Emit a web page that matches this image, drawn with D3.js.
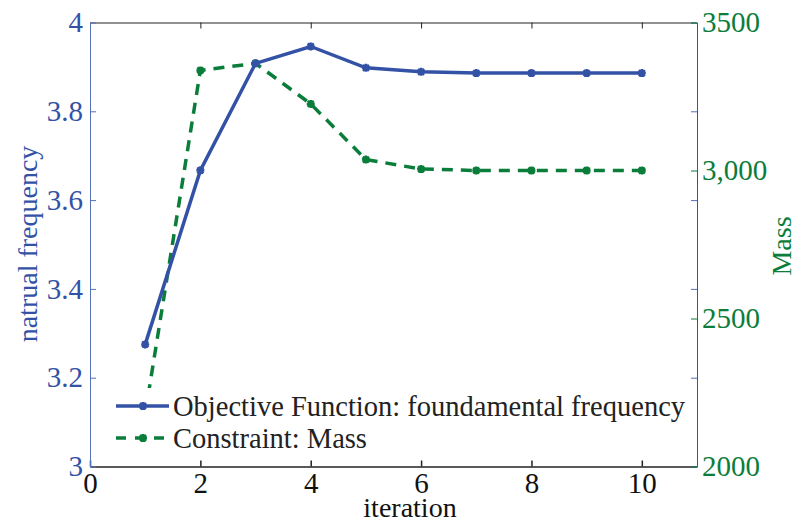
<!DOCTYPE html>
<html>
<head>
<meta charset="utf-8">
<script src="https://cdn.jsdelivr.net/npm/d3@7"></script>
<style>
body { margin: 0; background: #fff; }
text { font-family: "Liberation Serif", "Times New Roman", serif; }
</style>
</head>
<body>
<script>
var w = 796;
var h = 522;

var iterations = [1, 2, 3, 4, 5, 6, 7, 8, 9, 10];
var frequency = [3.275, 3.667, 3.908, 3.946, 3.898, 3.889, 3.886, 3.886, 3.886, 3.886];
var mass = [2178, 3338, 3362, 3225, 3037, 3005, 3000, 3000, 3000, 3000];
var xTicks = [0, 2, 4, 6, 8, 10];
var freqTicks = [3, 3.2, 3.4, 3.6, 3.8, 4];
var massTicks = [2000, 2500, 3000, 3500];
var massTickLabels = ["2000", "2500", "3,000", "3500"];
var legendNames = ["Objective Function: foundamental frequency", "Constraint: Mass"];

var blue = "#3352a6";
var green = "#0b7d3b";

var xScale = d3.scaleLinear().domain([0, 11]).range([90, 697]);
var yFreq = d3.scaleLinear().domain([3, 4]).range([466.5, 22.5]);
var yMass = d3.scaleLinear().domain([2000, 3500]).range([466.5, 22.5]);

var svg = d3.select("body").append("svg")
    .attr("width", w)
    .attr("height", h);

// top axis, ticks only
svg.append("g")
    .attr("transform", "translate(0," + yFreq(4) + ")")
    .call(d3.axisBottom(xScale).tickValues(xTicks).tickSizeInner(6).tickSizeOuter(0).tickFormat(""))
    .call(function(g) { g.selectAll("line,path").attr("stroke", "#222"); });

// bottom axis
var xAxisG = svg.append("g")
    .attr("transform", "translate(0," + yFreq(3) + ")")
    .call(d3.axisBottom(xScale).tickValues(xTicks).tickSizeInner(-6).tickSizeOuter(0).tickPadding(9));
xAxisG.selectAll("line,path").attr("stroke", "#222").attr("stroke-width", 1.5);
xAxisG.selectAll("text").attr("fill", "#111").style("font-size", "29px").attr("dy", "0.6em");

// blue minor ticks on the right side
svg.append("g")
    .attr("transform", "translate(" + xScale(11) + ",0)")
    .call(d3.axisRight(yFreq).tickValues(freqTicks).tickSizeInner(-6).tickSizeOuter(0).tickFormat(""))
    .call(function(g) {
        g.select(".domain").remove();
        g.selectAll("line").attr("stroke", "#5470b8");
    });

// left axis
var leftG = svg.append("g")
    .attr("transform", "translate(" + xScale(0) + ",0)")
    .call(d3.axisLeft(yFreq).tickValues(freqTicks).tickSizeInner(-6).tickSizeOuter(0).tickPadding(7)
        .tickFormat(function(d) { return d3.format("~g")(d); }));
leftG.selectAll("line,path").attr("stroke", "#5470b8");
leftG.selectAll("text").attr("fill", blue).style("font-size", "29px");

// right axis
var rightG = svg.append("g")
    .attr("transform", "translate(" + xScale(11) + ",0)")
    .call(d3.axisRight(yMass).tickValues(massTicks).tickSizeInner(-6).tickSizeOuter(0).tickPadding(5)
        .tickFormat(function(d, i) { return massTickLabels[i]; }));
rightG.selectAll("line,path").attr("stroke", green);
rightG.selectAll("text").attr("fill", green).style("font-size", "29px");

// axis titles
svg.append("text")
    .attr("transform", "translate(37," + 244 + ") rotate(-90)")
    .attr("text-anchor", "middle")
    .attr("fill", blue)
    .style("font-size", "28px")
    .text("natrual frequency");

svg.append("text")
    .attr("transform", "translate(791," + 246 + ") rotate(-90)")
    .attr("text-anchor", "middle")
    .attr("fill", green)
    .style("font-size", "28px")
    .text("Mass");

svg.append("text")
    .attr("x", 410)
    .attr("y", 517)
    .attr("text-anchor", "middle")
    .attr("fill", "#111")
    .style("font-size", "28px")
    .text("iteration");

// lines
var freqLine = d3.line()
    .x(function(d, i) { return xScale(iterations[i]); })
    .y(function(d) { return yFreq(d); });

var massLine = d3.line()
    .x(function(d, i) { return xScale(iterations[i]); })
    .y(function(d) { return yMass(d); });

var star = "M-4,0L4,0M0,-4L0,4M-3,-3L3,3M-3,3L3,-3";

svg.append("path")
    .datum(mass)
    .attr("d", massLine)
    .attr("fill", "none")
    .attr("stroke", green)
    .attr("stroke-width", 3.5)
    .attr("stroke-dasharray", "11,8");

svg.selectAll(".massPt")
    .data(mass)
    .enter()
    .append("path")
    .attr("class", "massPt")
    .attr("transform", function(d, i) { return "translate(" + xScale(iterations[i]) + "," + yMass(d) + ")"; })
    .attr("d", star)
    .attr("stroke", green)
    .attr("stroke-width", 2.5);

svg.append("path")
    .datum(frequency)
    .attr("d", freqLine)
    .attr("fill", "none")
    .attr("stroke", blue)
    .attr("stroke-width", 3.5);

svg.selectAll(".freqPt")
    .data(frequency)
    .enter()
    .append("path")
    .attr("class", "freqPt")
    .attr("transform", function(d, i) { return "translate(" + xScale(iterations[i]) + "," + yFreq(d) + ")"; })
    .attr("d", star)
    .attr("stroke", blue)
    .attr("stroke-width", 2.5);

// legend
var legend = svg.append("g");
legend.append("rect")
    .attr("x", 108)
    .attr("y", 388)
    .attr("width", 584)
    .attr("height", 70)
    .attr("fill", "#fff");

var legendColors = [blue, green];
var legendDash = [null, "10,9"];
legendNames.forEach(function(name, i) {
    var ly = 406 + i * 32;
    legend.append("line")
        .attr("x1", 116).attr("x2", 169)
        .attr("y1", ly).attr("y2", ly)
        .attr("stroke", legendColors[i])
        .attr("stroke-width", 3.5)
        .attr("stroke-dasharray", legendDash[i]);
    legend.append("path")
        .attr("transform", "translate(143," + ly + ")")
        .attr("d", star)
        .attr("stroke", legendColors[i])
        .attr("stroke-width", 2.5);
    legend.append("text")
        .attr("x", 173)
        .attr("y", ly)
        .attr("dy", "0.35em")
        .attr("fill", "#222")
        .style("font-size", "28.5px")
        .text(name);
});
</script>
</body>
</html>
